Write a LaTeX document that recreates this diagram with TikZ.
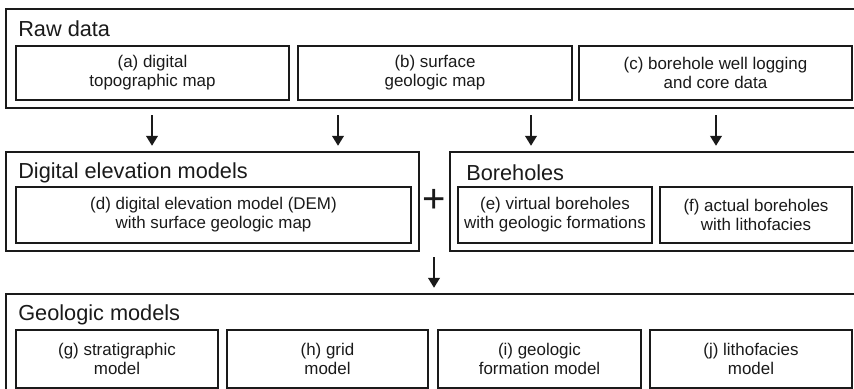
\documentclass[tikz,border=0pt]{standalone}
\usepackage{fontspec}
\setmainfont{Liberation Sans}
\usetikzlibrary{arrows.meta}
\definecolor{ink}{HTML}{1A1A1A}
\tikzset{
  outbox/.style={draw=ink, line width=2.2pt, rectangle, inner sep=0pt},
  inbox/.style={draw=ink, line width=1.3pt, rectangle, inner sep=0pt, align=center,
    text=ink, font=\fontsize{12.7}{14.4}\selectfont},
  ttl/.style={anchor=west, inner sep=0pt, text=ink, font=\fontsize{16.3}{18}\selectfont},
  arr/.style={draw=ink, line width=2.1pt, -{Triangle[width=8.5pt,length=7.5pt]}},
}
\begin{document}
\begin{tikzpicture}[x=0.75pt, y=-0.75pt]
\clip (0,0) rectangle (854,389);
\fill[white] (0,0) rectangle (854,389);
% Raw data
\node[outbox, minimum width=645pt, minimum height=74.25pt] (raw) at (436,58.5) {};
\node[ttl] (rawt) at (18,29) {Raw data};
\node[inbox, minimum width=204.75pt, minimum height=40.5pt] (a) at (152.5,73) {(a) digital\\topographic map};
\node[inbox, minimum width=205.5pt, minimum height=40.5pt] (b) at (435,73) {(b) surface\\geologic map};
\node[inbox, minimum width=204.75pt, minimum height=40.5pt] (c) at (715.5,73) {(c) borehole well logging\\and core data};
% DEM
\node[outbox, minimum width=309.75pt, minimum height=74.25pt] (dem) at (212.5,201.5) {};
\node[ttl] (demt) at (18,173) {Digital elevation models};
\node[inbox, minimum width=296.25pt, minimum height=42pt] (d) at (213.5,215) {(d) digital elevation model (DEM)\\with surface geologic map};
% Boreholes
\node[outbox, minimum width=312pt, minimum height=74.25pt] (bh) at (658,201.5) {};
\node[ttl] (bht) at (466,173) {Boreholes};
\node[inbox, minimum width=145.5pt, minimum height=42pt] (e) at (555,215) {(e) virtual boreholes\\with geologic formations};
\node[inbox, minimum width=144pt, minimum height=42pt] (f) at (756,215) {(f) actual boreholes\\with lithofacies};
\node[inner sep=0pt, text=ink, font=\fontsize{30}{31}\selectfont] (plus) at (434,201) {+};
% Geologic models
\node[outbox, minimum width=645pt, minimum height=79.5pt] (geo) at (436,347) {};
\node[ttl] (geot) at (18,315) {Geologic models};
\node[inbox, minimum width=151.5pt, minimum height=43.5pt] (g) at (117,359) {(g) stratigraphic\\model};
\node[inbox, minimum width=150.75pt, minimum height=43.5pt] (h) at (327.5,359) {(h) grid\\model};
\node[inbox, minimum width=152.25pt, minimum height=43.5pt] (i) at (539.5,359) {(i) geologic\\formation model};
\node[inbox, minimum width=151.5pt, minimum height=43.5pt] (j) at (751,359) {(j) lithofacies\\model};
% arrows
\foreach \xx in {152,338}{
  \draw[arr, shorten <=4.5pt, shorten >=3.5pt] (raw.south -| \xx,0) -- (dem.north -| \xx,0);
}
\foreach \xx in {531,716}{
  \draw[arr, shorten <=4.5pt, shorten >=3.5pt] (raw.south -| \xx,0) -- (bh.north -| \xx,0);
}
\coordinate (mid) at (434,251);
\draw[arr, shorten <=4.5pt, shorten >=3.5pt] (mid) -- (geo.north -| mid);
\end{tikzpicture}
\end{document}
